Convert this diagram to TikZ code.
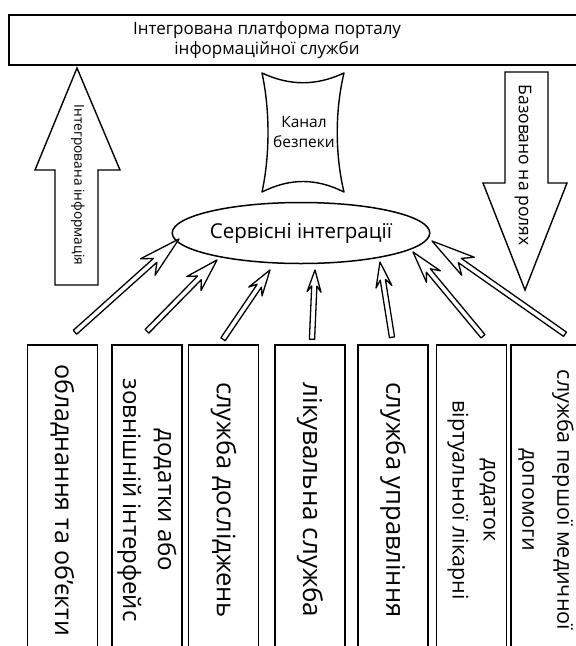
\documentclass[tikz,border=0pt]{standalone}
\usepackage{fontspec}
\setmainfont{Open Sans}
\usetikzlibrary{calc,shapes.geometric}
\newcommand\harrow[5]{%
 \coordinate (hB) at ($(#2)!#3pt!(#1)$);
 \coordinate (hN) at ($(#2)!#4pt!(#1)$);
 \draw[thinarr] (#2) -- ($(hB)!#5pt!90:(#2)$) -- ($(hN)!2.6pt!90:(#2)$) -- ($(#1)!2.6pt!90:(#2)$) -- ($(#1)!2.6pt!-90:(#2)$) -- ($(hN)!2.6pt!-90:(#2)$) -- ($(hB)!#5pt!-90:(#2)$) -- cycle;
}
\newcommand\fsz[2]{\fontsize{#1}{#2}\selectfont}
\tikzset{
 box/.style={draw, line width=1.5pt, rectangle, rotate=-90, minimum width=310pt, minimum height=70pt, inner sep=0pt, align=center},
 thinarr/.style={draw, line width=1.3pt, line join=round, fill=white},
 bigarr/.style={draw, line width=1.4pt, line join=miter, fill=white},
}
\begin{document}
\begin{tikzpicture}[x=1pt,y=-1pt]
\useasboundingbox (0,0) rectangle (576,646);
\clip (0,0) rectangle (576,646);
% top banner
\node[draw, line width=1.5pt, minimum width=600pt, minimum height=50pt, anchor=north west, inner sep=0pt] (top) at (8,14) {};
\node[align=center, font=\fsz{17}{20}] (toptxt) at (267,40) {Інтегрована платформа порталу\\інформаційної служби};
% left big arrow
\draw[bigarr] (77,68) -- (120,170) -- (98,170) -- (98,285) -- (55,285) -- (55,170) -- (35,170) -- cycle;
\node[rotate=-90, font=\fsz{13.7}{16}] (ltxt) at (78,185) {Інтегрована інформація};
% right big arrow
\draw[bigarr] (525,290) -- (567,183) -- (548,183) -- (548,72) -- (505,72) -- (505,183) -- (483,183) -- cycle;
\node[rotate=-90, font=\fsz{17.5}{20}] (rtxt) at (523,165) {Базовано на ролях};
% security channel
\draw[line width=1.4pt, line join=round] (262,73) .. controls (290,86) and (316,86) .. (344,73) .. controls (335,110) and (335,155) .. (344,192) .. controls (316,178) and (290,178) .. (262,192) .. controls (270,155) and (270,110) .. (262,73) -- cycle;
\node[align=center, font=\fsz{15.5}{20}] (chan) at (304,132) {Канал\\безпеки};
% ellipse
\node[ellipse, draw, line width=1.5pt, minimum width=228pt, minimum height=61pt, inner sep=0pt, font=\fsz{20.5}{24}] (ell) at (301,233) {Сервісні інтеграції};
% boxes
\node[box, font=\fsz{25}{34}] (b1) at (62.5,500) {обладнання та об’єкти};
\node[box, font=\fsz{24}{35}] (b2) at (147,500) {додатки або\\зовнішній інтерфейс};
\node[box, font=\fsz{25.5}{34}] (b3) at (223.5,500) {служба досліджень};
\node[box, font=\fsz{26}{34}] (b4) at (310,500) {лікувальна служба};
\node[box, font=\fsz{25.5}{34}] (b5) at (393,500) {служба управління};
\node[box, font=\fsz{21.5}{31}] (b6) at (471.5,500) {додаток\\віртуальної лікарні};
\node[box, font=\fsz{21.5}{35}] (b7) at (546,500) {служба першої медичної\\допомоги};
% arrow end points
\coordinate (s1) at ([xshift=12.5pt,yshift=12pt]b1.west);
\coordinate (s2) at ([yshift=13pt]b2.west);
\coordinate (s3) at ([xshift=-0.5pt,yshift=5pt]b3.west);
\coordinate (s4) at ([xshift=2pt,yshift=5pt]b4.west);
\coordinate (s5) at ([xshift=-1pt,yshift=7pt]b5.west);
\coordinate (s6) at ([xshift=11.5pt,yshift=8pt]b6.west);
\coordinate (s7) at ([xshift=19pt,yshift=10pt]b7.west);
\coordinate (t1) at (179,239);
\coordinate (t2) at (217,260);
\coordinate (t3) at (270,270);
\coordinate (t4) at (315,270);
\coordinate (t5) at (380,262);
\coordinate (t6) at (413,252);
\coordinate (t7) at (432,241);
\harrow{s1}{t1}{42}{32}{11}
\harrow{s2}{t2}{33}{25}{10}
\harrow{s3}{t3}{26}{19}{8}
\harrow{s4}{t4}{22}{16}{7}
\harrow{s5}{t5}{25}{18}{8}
\harrow{s6}{t6}{32}{24}{9}
\harrow{s7}{t7}{44}{34}{11}
\end{tikzpicture}
\end{document}
